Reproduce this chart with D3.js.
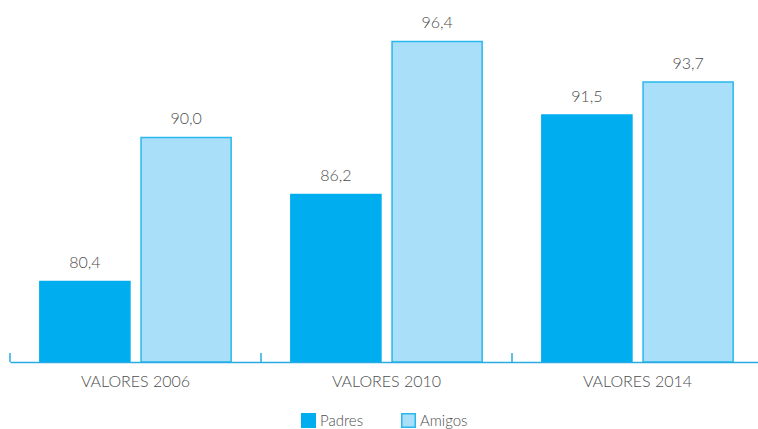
<!DOCTYPE html>
<html>
<head>
<meta charset="utf-8">
<script src="https://cdn.jsdelivr.net/npm/d3@7"></script>
<style>
  body { margin: 0; background: #fff; }
  svg text { font-family: "Lato", "DejaVu Sans", sans-serif; font-weight: 300; fill: #4d4d4d; }
</style>
</head>
<body>
<svg width="758" height="429"></svg>
<script>
// Data
const categories = ["VALORES 2006", "VALORES 2010", "VALORES 2014"];
const seriesNames = ["Padres", "Amigos"];
const padres = [80.4, 86.2, 91.5];
const amigos = [90.0, 96.4, 93.7];

const rows = categories.map((c, i) => ({cat: c, values: [padres[i], amigos[i]]}));

const fill = {Padres: "#00aeef", Amigos: "#aadff9"};
const stroke = {Padres: "#00aeef", Amigos: "#29b8ec"};

const svg = d3.select("svg");
const baseY = 362;

const x0 = d3.scaleBand()
    .domain(categories)
    .range([10, 763])
    .padding(0);

const x1 = d3.scaleBand()
    .domain(seriesNames)
    .range([0, x0.bandwidth()])
    .paddingInner(0.1)
    .paddingOuter(0.29);

const y = d3.scaleLinear()
    .domain([75, 100])
    .range([baseY, baseY - 25 * 15]);

const fmt = v => d3.format(".1f")(v).replace(".", ",");

// bars
const groups = svg.selectAll("g.grp")
    .data(rows)
  .enter().append("g")
    .attr("class", "grp")
    .attr("transform", d => `translate(${x0(d.cat)},0)`);

groups.selectAll("rect")
    .data(d => d.values.map((v, i) => ({key: seriesNames[i], v: v})))
  .enter().append("rect")
    .attr("x", d => x1(d.key) + 0.5)
    .attr("y", d => y(d.v) + 0.5)
    .attr("width", x1.bandwidth() - 1)
    .attr("height", d => baseY - y(d.v) - 0.5)
    .attr("fill", d => fill[d.key])
    .attr("stroke", d => stroke[d.key])
    .attr("stroke-width", 1.5);

groups.selectAll("text.val")
    .data(d => d.values.map((v, i) => ({key: seriesNames[i], v: v})))
  .enter().append("text")
    .attr("class", "val")
    .attr("x", d => x1(d.key) + x1.bandwidth() / 2)
    .attr("y", d => y(d.v) - 13)
    .attr("text-anchor", "middle")
    .style("font-size", "16px")
    .text(d => fmt(d.v));

// axis
const axis = svg.append("g")
    .attr("transform", `translate(0,${baseY})`)
    .call(d3.axisBottom(x0).tickSize(0).tickPadding(14));
axis.select(".domain").attr("stroke", "#29abe2").attr("stroke-width", 1.5);
axis.selectAll(".tick text")
    .attr("font-family", null)
    .style("font-size", "16px");

// separator ticks at band edges
const edges = categories.map(c => x0(c)).concat([x0.range()[1]]);
axis.selectAll("line.sep")
    .data(edges)
  .enter().append("line")
    .attr("class", "sep")
    .attr("x1", d => d).attr("x2", d => d)
    .attr("y1", -9).attr("y2", 0)
    .attr("stroke", "#29abe2")
    .attr("stroke-width", 1.5);

// legend
const legendX = [301, 401];
const legend = svg.selectAll("g.leg")
    .data(seriesNames)
  .enter().append("g")
    .attr("class", "leg")
    .attr("transform", (d, i) => `translate(${legendX[i]},413)`);

legend.append("rect")
    .attr("x", 0.75).attr("y", 0.75)
    .attr("width", 13.5).attr("height", 13.5)
    .attr("fill", d => fill[d])
    .attr("stroke", d => stroke[d])
    .attr("stroke-width", 1.5);

legend.append("text")
    .attr("x", 19)
    .attr("y", 13)
    .style("font-size", "15px")
    .text(d => d);
</script>
</body>
</html>
